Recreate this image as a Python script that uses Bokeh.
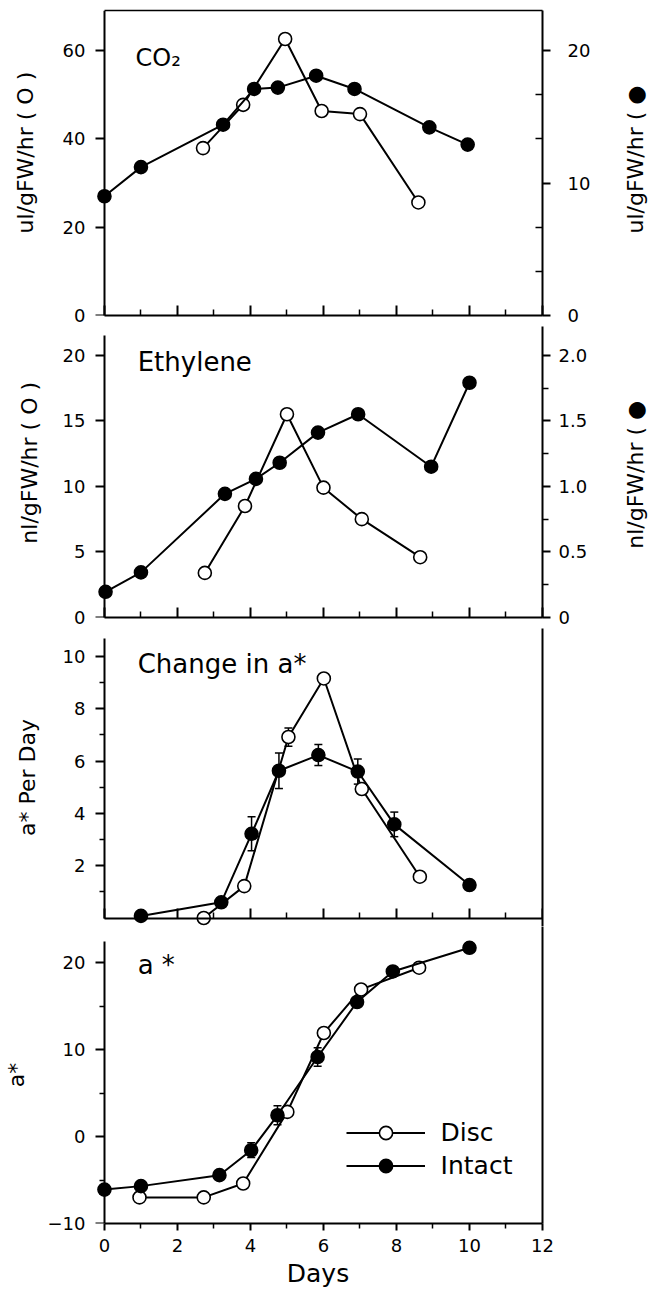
import math
from bokeh.plotting import figure
from bokeh.models import (Range1d, LinearAxis, FixedTicker, Legend, LegendItem,
                          ColumnDataSource, Whisker, TeeHead, Label, CustomJSTickFormatter)
from bokeh.layouts import column
from bokeh.embed import file_html
from bokeh.resources import INLINE

# ---------------- data ----------------
# CO2 (Disc on left axis, Intact on right axis)
co2_disc_days = [2.7, 3.8, 4.95, 5.95, 7.0, 8.6]
co2_disc = [37.9, 47.7, 62.6, 46.3, 45.6, 25.6]
co2_intact_days = [0.0, 1.0, 3.25, 4.1, 4.75, 5.8, 6.85, 8.9, 9.95]
co2_intact = [9.0, 11.2, 14.4, 17.1, 17.2, 18.1, 17.1, 14.2, 12.9]

# Ethylene (Disc on left axis, Intact on right axis)
eth_disc_days = [2.75, 3.85, 5.0, 6.0, 7.05, 8.65]
eth_disc = [3.4, 8.5, 15.5, 9.9, 7.5, 4.6]
eth_intact_days = [0.03, 1.0, 3.3, 4.15, 4.8, 5.85, 6.95, 8.95, 10.0]
eth_intact = [0.196, 0.344, 0.943, 1.057, 1.18, 1.41, 1.55, 1.15, 1.79]

# Change in a* per day
chg_disc_days = [2.72, 3.83, 5.04, 6.01, 7.05, 8.64]
chg_disc = [0.0, 1.22, 6.92, 9.16, 4.93, 1.58]
chg_disc_err = [0.0, 0.0, 0.35, 0.15, 0.2, 0.0]
chg_intact_days = [1.0, 3.2, 4.03, 4.78, 5.86, 6.94, 7.94, 10.0]
chg_intact = [0.08, 0.6, 3.22, 5.63, 6.23, 5.6, 3.58, 1.26]
chg_intact_err = [0.0, 0.0, 0.65, 0.68, 0.4, 0.48, 0.47, 0.1]

# a*
a_disc_days = [0.96, 2.72, 3.8, 5.01, 6.01, 7.03, 8.62]
a_disc = [-7.0, -7.0, -5.4, 2.84, 11.92, 16.93, 19.43]
a_intact_days = [0.0, 1.0, 3.15, 4.02, 4.74, 5.84, 6.92, 7.9, 10.0]
a_intact = [-6.1, -5.7, -4.44, -1.57, 2.45, 9.16, 15.48, 19.0, 21.72]
a_intact_err = [0.0, 0.0, 0.0, 0.85, 1.1, 1.07, 0.6, 0.45, 0.0]

x_major = [0, 2, 4, 6, 8, 10, 12]
x_minor = [1, 3, 5, 7, 9, 11]

# ---------------- style ----------------
FONT = "DejaVu Sans"
TICK_FS = "18px"
TITLE_FS = "22px"
FRAME_W = 449
BL = 93
BR = 107
MS = 13
LW = 2
BLANK = CustomJSTickFormatter(code="return ''")

xr = Range1d(-0.3, 12)


def base_fig(top, h, bottom, y0, y1):
    p = figure(x_range=xr, y_range=Range1d(y0, y1), frame_width=FRAME_W, frame_height=h,
               min_border_left=BL, min_border_right=BR, min_border_top=top,
               min_border_bottom=bottom, toolbar_location=None, output_backend="svg",
               outline_line_color=None, background_fill_color="white",
               border_fill_color="white")
    p.xgrid.visible = False
    p.ygrid.visible = False
    return p


def title_axis(p, side, title, standoff):
    ax = LinearAxis(ticker=FixedTicker(ticks=[]), axis_line_color=None,
                    major_tick_out=0, minor_tick_out=0, major_tick_in=0, minor_tick_in=0,
                    major_label_standoff=0, axis_label=title,
                    axis_label_text_font=FONT, axis_label_text_font_size=TITLE_FS,
                    axis_label_text_font_style="normal", axis_label_text_color="black",
                    axis_label_standoff=standoff)
    p.add_layout(ax, side)


def side_title(p, side, x, y, text):
    # vertical title in a border panel, reading bottom to top
    p.add_layout(Label(x=x, y=y, text=text, angle=math.pi / 2, text_align="left",
                       text_baseline="middle", text_font=FONT, text_font_size=TITLE_FS,
                       text_color="black"), side)


def style_left(p, ticks, minor, bounds, title=None, standoff=0):
    # tick labels, at the frame edge (no line)
    lab = p.left[0]
    lab.ticker = FixedTicker(ticks=ticks, minor_ticks=[])
    lab.axis_line_color = None
    lab.major_tick_line_color = None
    lab.minor_tick_line_color = None
    lab.major_tick_out = 0
    lab.major_tick_in = 0
    lab.minor_tick_out = 0
    lab.minor_tick_in = 0
    lab.major_label_standoff = 8
    lab.major_label_text_font = FONT
    lab.major_label_text_font_size = TICK_FS
    lab.major_label_text_color = "black"
    if title:
        title_axis(p, "left", title, standoff)
    # drawn axis line with ticks, located at day 0
    ax = LinearAxis(fixed_location=0, bounds=bounds,
                    ticker=FixedTicker(ticks=ticks, minor_ticks=minor),
                    formatter=BLANK, major_label_text_font_size="1px",
                    major_label_standoff=0, axis_line_width=LW,
                    major_tick_out=9, major_tick_in=0, minor_tick_out=5, minor_tick_in=0,
                    major_tick_line_width=LW, minor_tick_line_width=1.5)
    p.add_layout(ax, "left")


def style_bottom(p, last=False, fixed=None):
    ax = p.below[0]
    ax.ticker = FixedTicker(ticks=x_major, minor_ticks=x_minor)
    ax.bounds = (0, 12)
    ax.axis_line_width = LW
    ax.major_tick_line_width = LW
    ax.minor_tick_line_width = 1.5
    if fixed is not None:
        ax.fixed_location = fixed
    if last:
        ax.major_tick_out = 7
        ax.major_tick_in = 0
        ax.minor_tick_out = 5
        ax.minor_tick_in = 0
        ax.major_label_standoff = 8
        ax.major_label_text_font = FONT
        ax.major_label_text_font_size = TICK_FS
        ax.major_label_text_color = "black"
        ax.axis_label = "Days"
        ax.axis_label_text_font = FONT
        ax.axis_label_text_font_size = "25px"
        ax.axis_label_text_font_style = "normal"
        ax.axis_label_text_color = "black"
        ax.axis_label_standoff = 4
    else:
        ax.major_tick_out = 0
        ax.major_tick_in = 10
        ax.minor_tick_out = 0
        ax.minor_tick_in = 6
        ax.major_label_standoff = 0
        ax.formatter = BLANK
        ax.major_label_text_font_size = "1px"


def plain_right(p):
    ax = LinearAxis(ticker=FixedTicker(ticks=[]), axis_line_width=LW,
                    major_tick_out=0, minor_tick_out=0, major_label_standoff=0)
    p.add_layout(ax, "right")


def right_axis(p, ticks, minor, major_out, minor_out, minor_in, standoff, overrides=None):
    ax = LinearAxis(y_range_name="r", ticker=FixedTicker(ticks=ticks, minor_ticks=minor),
                    axis_line_width=LW, major_tick_out=major_out, major_tick_in=0,
                    minor_tick_out=minor_out, minor_tick_in=minor_in,
                    major_tick_line_width=LW, minor_tick_line_width=1.5,
                    major_label_standoff=standoff, major_label_text_font=FONT,
                    major_label_text_font_size=TICK_FS, major_label_text_color="black")
    if overrides:
        ax.major_label_overrides = overrides
    p.add_layout(ax, "right")


def series(p, xs, ys, filled, rname=None):
    kw = {}
    if rname:
        kw["y_range_name"] = rname
    ln = p.line(xs, ys, line_width=LW, line_color="black", **kw)
    sc = p.scatter(xs, ys, marker="circle", size=MS,
                   fill_color="black" if filled else "white",
                   line_color="black", line_width=1.6, **kw)
    return ln, sc


def whiskers(p, xs, ys, errs):
    src = ColumnDataSource(dict(x=xs, upper=[y + e for y, e in zip(ys, errs)],
                                lower=[y - e for y, e in zip(ys, errs)]))
    w = Whisker(source=src, base="x", upper="upper", lower="lower", dimension="height",
                line_width=1.5, line_color="black",
                upper_head=TeeHead(size=8, line_width=1.5, line_color="black"),
                lower_head=TeeHead(size=8, line_width=1.5, line_color="black"))
    w.level = "underlay"
    p.add_layout(w)


def inner_label(p, x, y, text, size="26px"):
    p.add_layout(Label(x=x, y=y, text=text, text_font=FONT, text_font_size=size,
                       text_baseline="alphabetic", text_color="black"))


# ---------------- panel 1: CO2 ----------------
p1 = base_fig(10, 305, 11, 0, 69.06)
p1.extra_y_ranges = {"r": Range1d(0, 69.06 / 3)}
style_left(p1, [0, 20, 40, 60], [], (0, 69.06))
style_bottom(p1)
right_axis(p1, [0, 10, 20], [10 / 3, 20 / 3, 40 / 3, 50 / 3], 8, 0, 7, 17)
top = LinearAxis(ticker=FixedTicker(ticks=[]), axis_line_width=1.5, major_tick_out=0,
                 minor_tick_out=0, major_label_standoff=0, bounds=(0, 12))
p1.add_layout(top, "above")
series(p1, co2_disc_days, co2_disc, False)
series(p1, co2_intact_days, co2_intact, True, "r")
inner_label(p1, 0.85, 58.4, "CO\u2082", "24px")
side_title(p1, "left", -2.16, 18.57, "ul/gFW/hr ( O )")
side_title(p1, "right", 14.55, 18.57, "ul/gFW/hr ( \u25cf")

# ---------------- panel 2: Ethylene ----------------
p2 = base_fig(0, 291, 11, 0, 22.19)
p2.extra_y_ranges = {"r": Range1d(0, 2.219)}
style_left(p2, [0, 5, 10, 15, 20], [], (0, 21.5))
style_bottom(p2)
right_axis(p2, [0, 0.5, 1.0, 1.5, 2.0], [0.25, 0.75, 1.25, 1.75], 8, 6, 0, 8,
           overrides={0: "0", 0.5: "0.5", 1: "1.0", 1.5: "1.5", 2: "2.0"})
series(p2, eth_disc_days, eth_disc, False)
series(p2, eth_intact_days, eth_intact, True, "r")
inner_label(p2, 0.91, 19.47, "Ethylene")
side_title(p2, "left", -2.05, 5.63, "nl/gFW/hr ( O )")
side_title(p2, "right", 14.55, 5.24, "nl/gFW/hr ( \u25cf")

# ---------------- panel 3: Change in a* ----------------
p3 = base_fig(0, 298, 0, -0.325, 11.07)
style_left(p3, [2, 4, 6, 8, 10], [1, 3, 5, 7, 9], (0, 10.7), "a* Per Day", 20)
style_bottom(p3, fixed=0)
plain_right(p3)
whiskers(p3, chg_disc_days, chg_disc, chg_disc_err)
whiskers(p3, chg_intact_days, chg_intact, chg_intact_err)
series(p3, chg_disc_days, chg_disc, False)
series(p3, chg_intact_days, chg_intact, True)
inner_label(p3, 0.91, 9.72, "Change in a*")

# ---------------- panel 4: a* ----------------
p4 = base_fig(0, 297, 69, -10, 24.17)
style_left(p4, [-10, 0, 10, 20], [-5, 5, 15], (-10, 22.5), "a*", 16)
style_bottom(p4, last=True)
plain_right(p4)
whiskers(p4, a_intact_days, a_intact, a_intact_err)
ld, sd = series(p4, a_disc_days, a_disc, False)
li, si = series(p4, a_intact_days, a_intact, True)
inner_label(p4, 0.91, 19.69, "a *")
legend = Legend(items=[LegendItem(label="Disc", renderers=[ld, sd]),
                       LegendItem(label="Intact", renderers=[li, si])],
                location=(252.6, 41.5), glyph_width=79, glyph_height=33, label_standoff=16,
                spacing=0, padding=0, margin=0, border_line_color=None,
                background_fill_alpha=0, label_text_font=FONT,
                label_text_font_size="25px", label_text_color="black")
p4.add_layout(legend)

layout = column(p1, p2, p3, p4, spacing=0)
with open("out.html", "w") as f:
    f.write(file_html(layout, INLINE))
